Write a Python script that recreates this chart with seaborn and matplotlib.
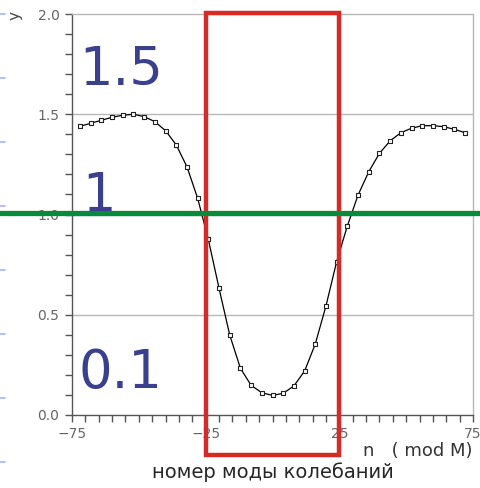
import numpy as np
import pandas as pd
import matplotlib
matplotlib.use("Agg")
import matplotlib.pyplot as plt
from matplotlib.patches import Rectangle
from matplotlib.lines import Line2D
from matplotlib.ticker import MultipleLocator
import seaborn as sns

# mode number n (mod M) and the measured ratio
n_mode = [-72, -68, -64, -60, -56, -52, -48, -44, -40, -36, -32, -28, -24,
          -20, -16, -12, -8, -4, 0, 4, 8, 12, 16, 20, 24, 28, 32, 36, 40,
          44, 48, 52, 56, 60, 64, 68, 72]
y_vals = [1.44, 1.455, 1.47, 1.485, 1.495, 1.50, 1.488, 1.463, 1.418, 1.347,
          1.238, 1.081, 0.876, 0.632, 0.399, 0.233, 0.148, 0.111, 0.098,
          0.108, 0.145, 0.219, 0.354, 0.544, 0.765, 0.943, 1.097, 1.213,
          1.305, 1.367, 1.408, 1.43, 1.443, 1.443, 1.438, 1.425, 1.408]

x_ticks = [-75, -25, 25, 75]
x_ticklabels = ["\u221275", "\u221225", "25", "75"]
y_ticks = [0.0, 0.5, 1.0, 1.5, 2.0]
big_labels = ["1.5", "1", "0.1"]
big_label_pos = [(-56.7, 1.72), (-65.0, 1.09), (-57.0, 0.21)]
box_x = (-25, 25)
box_y = (-0.2, 2.005)
green_level = 1.007
dash_rows = [14, 78, 142, 206, 270, 334, 398, 462]  # slide decoration, px from top

df = pd.DataFrame({"n": n_mode, "y": y_vals})

sns.set_style("white")
plt.rcParams["font.family"] = ["DejaVu Sans"]

fig = plt.figure(figsize=(4.81, 4.88), dpi=100)
ax = fig.add_axes([72 / 481, 1 - 415 / 488, 401 / 481, 401 / 488])

sns.lineplot(data=df, x="n", y="y", ax=ax, color="black", lw=0.9, zorder=3)
sns.scatterplot(data=df, x="n", y="y", ax=ax, marker="s", s=10,
                facecolor="white", edgecolor="#222222", linewidth=0.8, zorder=4)

ax.set_xlim(-75, 75)
ax.set_ylim(0, 2.0)
ax.set_xticks(x_ticks)
ax.set_xticklabels(x_ticklabels)
ax.set_yticks(y_ticks)
ax.set_yticklabels([f"{v:.1f}" for v in y_ticks])
ax.xaxis.set_minor_locator(MultipleLocator(5))
ax.yaxis.set_minor_locator(MultipleLocator(0.1))
ax.tick_params(which="both", direction="out", length=5, width=1, color="#555555",
               labelsize=10, labelcolor="#666666")
ax.tick_params(axis="x", which="both", bottom=True, pad=4)
ax.tick_params(axis="y", which="both", left=True, pad=4)

for yy in y_ticks[1:-1]:
    ax.axhline(yy, color="#b8b8b8", lw=1, zorder=1)
for side in ["top", "right"]:
    ax.spines[side].set_color("#b8b8b8")
    ax.spines[side].set_linewidth(1)
for side in ["left", "bottom"]:
    ax.spines[side].set_color("#555555")
    ax.spines[side].set_linewidth(1)

ax.set_xlabel("номер моды колебаний", fontsize=14, labelpad=15)
ax.set_ylabel("")

# annotations from the slide
ax.add_patch(Rectangle((box_x[0], box_y[0]), box_x[1] - box_x[0], box_y[1] - box_y[0],
                       fill=False, edgecolor="#d42b27", lw=3.2, clip_on=False, zorder=6))
ax.axhline(green_level, xmin=-72 / 401, xmax=409 / 401, color="#078a3a", lw=3.8,
           clip_on=False, zorder=7)
for txt, (tx, ty) in zip(big_labels, big_label_pos):
    ax.text(tx, ty, txt, fontsize=38, color="#3a3f8e", ha="center", va="center", zorder=8)

fig.text(15 / 481, 1 - 15 / 488, "y", rotation=90, fontsize=11, color="#444444",
         ha="center", va="center")
fig.text(418 / 481, 1 - 451 / 488, "n   ( mod M)", fontsize=13, color="#333333",
         ha="center", va="center")
for r in dash_rows:
    fig.add_artist(Line2D([0, 5 / 481], [1 - r / 488] * 2, color="#aab6f2", lw=1.2))

fig.savefig("out.png", dpi=100)
